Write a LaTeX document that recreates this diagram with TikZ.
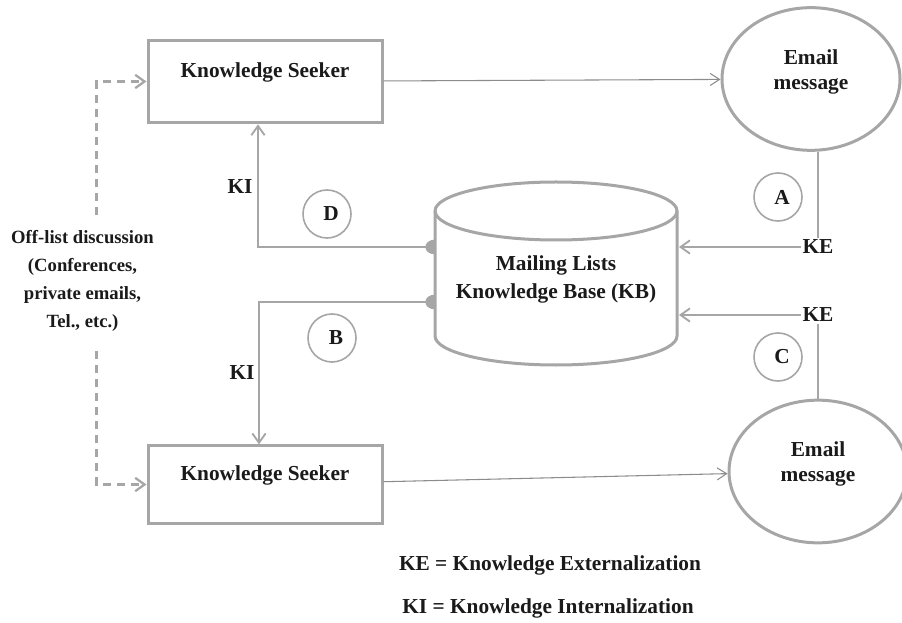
\documentclass[tikz,border=0pt]{standalone}
\usepackage{fontspec}
\setmainfont{Liberation Serif}
\usetikzlibrary{positioning,arrows.meta,shapes.geometric,calc}
\definecolor{linegray}{HTML}{A6A6A6}
\definecolor{thingray}{HTML}{8C8C8C}
\definecolor{ink}{HTML}{1A1A1A}

\begin{document}
\begin{tikzpicture}[
  x=0.75pt, y=-0.75pt,
  every node/.style={font=\fontsize{16}{19}\selectfont\bfseries, text=ink},
  seeker/.style={draw=linegray, line width=2.25pt, minimum width=175.5pt, text depth=17.5pt},
  mail/.style={draw=linegray, line width=2.25pt, ellipse, minimum width=133.5pt, minimum height=107pt, align=center, inner sep=0pt, text depth=14.5pt},
  tag/.style={draw=linegray, line width=1.2pt, circle, minimum size=36pt, inner sep=0pt},
  kelabel/.style={inner sep=1pt},
  cyl/.style={draw=linegray, line width=2.25pt},
  arr/.style={-{Straight Barb[length=7pt,width=10pt]}, line width=1.4pt, color=linegray},
  ballarr/.style={{Ellipse[length=14pt,width=11pt]}-{Straight Barb[length=7pt,width=10pt]}, line width=1.4pt, color=linegray},
  thinarr/.style={-{Straight Barb[length=7pt,width=9pt]}, line width=0.8pt, color=thingray},
  plain/.style={line width=1.4pt, color=linegray},
  dasharr/.style={-{Straight Barb[length=7pt,width=10pt]}, line width=1.7pt, color=linegray, dash pattern=on 6pt off 4.5pt}
]
  \useasboundingbox (0,0) rectangle (902,623);

  % Knowledge seekers
  \node[seeker, minimum height=62pt] (seek_top) at (265,81.5) {Knowledge Seeker};
  \node[seeker, minimum height=58pt] (seek_bot) at (265,484.5) {Knowledge Seeker};

  % Email messages
  \node[mail] (mail_top) at (811,79) {Email\\message};
  \node[mail] (mail_bot) at (818,471.5) {Email\\message};

  % Ports on the knowledge base
  \coordinate (kb_out1) at (444,247);
  \coordinate (kb_out2) at (444,302);
  \coordinate (kb_in1) at (679,247);
  \coordinate (kb_in2) at (679,315);

  % KI connectors
  \draw[ballarr] (kb_out1) -| ([xshift=-5.25pt]seek_top.south);
  \draw[ballarr] (kb_out2) -| ([xshift=-4.5pt]seek_bot.north);
  \node (ki_top) at (240,187) {KI};
  \node (ki_bot) at (242,373) {KI};

  % Knowledge base cylinder
  \draw[cyl, fill=white] (435,211) -- (435,336)
    arc[start angle=180, end angle=360, x radius=90.75pt, y radius=21.75pt] -- (677,211)
    arc[start angle=0, end angle=180, x radius=90.75pt, y radius=21.75pt] -- cycle;
  \draw[cyl] (435,211) arc[start angle=180, end angle=360, x radius=90.75pt, y radius=21.75pt];
  \node[align=center] (kb) at (556,279) {Mailing Lists\\[2pt]Knowledge Base (KB)};

  % KE connectors
  \node[kelabel] (ke_a) at (818,247) {KE};
  \node[kelabel] (ke_c) at (818,315) {KE};
  \draw[plain] (ke_a.north) -- (ke_a.north |- mail_top.south);
  \draw[arr] (ke_a.west) -- (kb_in1);
  \draw[arr] (ke_c.west) -- (kb_in2);
  \draw[plain] (ke_c.south) -- (ke_c.south |- mail_bot.north);

  % Seekers post emails
  \draw[thinarr] (seek_top) -- (mail_top);
  \draw[thinarr] (seek_bot) -- (mail_bot);

  % Step tags
  \node[tag] (tag_a) at (778,197) {\hspace{6pt}A};
  \node[tag] (tag_b) at (332,338) {\hspace{6pt}B};
  \node[tag] (tag_c) at (778,357) {\hspace{6pt}C};
  \node[tag] (tag_d) at (327,214) {\hspace{6pt}D};

  % Off-list discussion
  \node[align=center, font=\fontsize{14}{21}\selectfont\bfseries] (offlist) at (82.5,281)
    {Off-list discussion\\(Conferences,\\private emails,\\Tel., etc.)};
  \draw[dasharr] ([xshift=10.5pt,yshift=8.25pt]offlist.north) |- (seek_top.west);
  \draw[dasharr] ([xshift=10.5pt,yshift=-11.25pt]offlist.south) |- (seek_bot.west);

  % Legend
  \node (leg_ke) at (550,565) {KE = Knowledge Externalization};
  \node (leg_ki) at (548,608) {KI = Knowledge Internalization};
\end{tikzpicture}
\end{document}
